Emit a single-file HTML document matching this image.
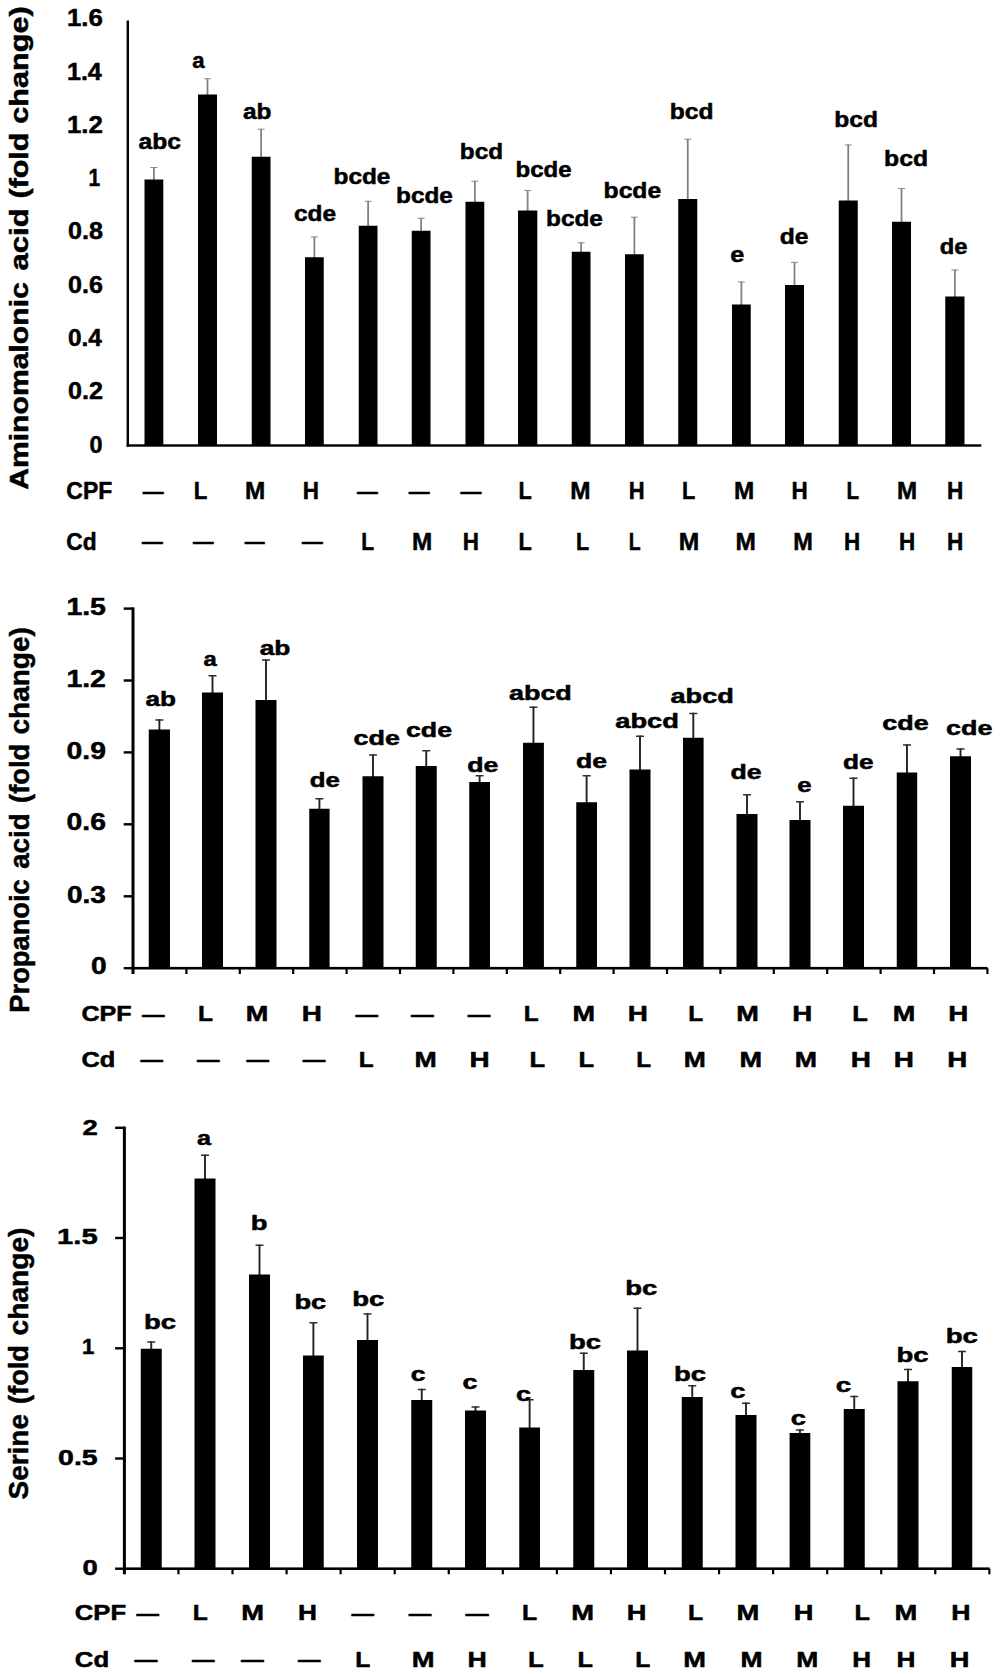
<!DOCTYPE html>
<html lang="en"><head><meta charset="utf-8"><title>Metabolite fold change charts</title>
<style>html,body{margin:0;padding:0;background:#fff}svg{display:block}text{font-family:"Liberation Sans", sans-serif;font-weight:bold;fill:#000;stroke:#000;stroke-width:0.5px;stroke-linejoin:round}</style></head><body>
<svg width="1000" height="1674" viewBox="0 0 1000 1674">
<rect width="1000" height="1674" fill="#fff"/>
<g id="chart1">
<path d="M153.9 180.5V167" stroke="#808080" stroke-width="1.8" fill="none"/><path d="M150.4 167.5H157.4" stroke="#8c8c8c" stroke-width="1" fill="none"/><path d="M207.5 95.5V78.25" stroke="#808080" stroke-width="1.8" fill="none"/><path d="M204 78.75H211" stroke="#8c8c8c" stroke-width="1" fill="none"/><path d="M261.12 157.75V128.75" stroke="#808080" stroke-width="1.8" fill="none"/><path d="M257.62 129.25H264.62" stroke="#8c8c8c" stroke-width="1" fill="none"/><path d="M314.38 258.25V236.5" stroke="#808080" stroke-width="1.8" fill="none"/><path d="M310.88 237H317.88" stroke="#8c8c8c" stroke-width="1" fill="none"/><path d="M368.12 226.75V200.8" stroke="#808080" stroke-width="1.8" fill="none"/><path d="M364.62 201.3H371.62" stroke="#8c8c8c" stroke-width="1" fill="none"/><path d="M421.12 231.75V217.75" stroke="#808080" stroke-width="1.8" fill="none"/><path d="M417.62 218.25H424.62" stroke="#8c8c8c" stroke-width="1" fill="none"/><path d="M474.88 202.75V180.75" stroke="#808080" stroke-width="1.8" fill="none"/><path d="M471.38 181.25H478.38" stroke="#8c8c8c" stroke-width="1" fill="none"/><path d="M527.65 211.5V190" stroke="#808080" stroke-width="1.8" fill="none"/><path d="M524.15 190.5H531.15" stroke="#8c8c8c" stroke-width="1" fill="none"/><path d="M581.12 252.75V242.3" stroke="#808080" stroke-width="1.8" fill="none"/><path d="M577.62 242.8H584.62" stroke="#8c8c8c" stroke-width="1" fill="none"/><path d="M634.38 255.25V216.75" stroke="#808080" stroke-width="1.8" fill="none"/><path d="M630.88 217.25H637.88" stroke="#8c8c8c" stroke-width="1" fill="none"/><path d="M687.75 200V138.75" stroke="#808080" stroke-width="1.8" fill="none"/><path d="M684.25 139.25H691.25" stroke="#8c8c8c" stroke-width="1" fill="none"/><path d="M741.38 305.5V281.5" stroke="#808080" stroke-width="1.8" fill="none"/><path d="M737.88 282H744.88" stroke="#8c8c8c" stroke-width="1" fill="none"/><path d="M794.5 286V261.9" stroke="#808080" stroke-width="1.8" fill="none"/><path d="M791 262.4H798" stroke="#8c8c8c" stroke-width="1" fill="none"/><path d="M848.25 201.5V144.5" stroke="#808080" stroke-width="1.8" fill="none"/><path d="M844.75 145H851.75" stroke="#8c8c8c" stroke-width="1" fill="none"/><path d="M901.5 222.75V188" stroke="#808080" stroke-width="1.8" fill="none"/><path d="M898 188.5H905" stroke="#8c8c8c" stroke-width="1" fill="none"/><path d="M954.88 297.5V269.5" stroke="#808080" stroke-width="1.8" fill="none"/><path d="M951.38 270H958.38" stroke="#8c8c8c" stroke-width="1" fill="none"/>
<g fill="#000"><rect x="144.5" y="179.5" width="18.8" height="266"/><rect x="198" y="94.5" width="19" height="351"/><rect x="251.75" y="156.75" width="18.75" height="288.75"/><rect x="305" y="257.25" width="18.75" height="188.25"/><rect x="358.75" y="225.75" width="18.75" height="219.75"/><rect x="411.75" y="230.75" width="18.75" height="214.75"/><rect x="465.5" y="201.75" width="18.75" height="243.75"/><rect x="518" y="210.5" width="19.3" height="235"/><rect x="571.75" y="251.75" width="18.75" height="193.75"/><rect x="625" y="254.25" width="18.75" height="191.25"/><rect x="678.25" y="199" width="19" height="246.5"/><rect x="732" y="304.5" width="18.75" height="141"/><rect x="785" y="285" width="19" height="160.5"/><rect x="838.75" y="200.5" width="19" height="245"/><rect x="892" y="221.75" width="19" height="223.75"/><rect x="945.25" y="296.5" width="19.25" height="149"/></g>
<rect x="126.6" y="20.5" width="2.4" height="426.2"/>
<rect x="126.6" y="444.3" width="854.7" height="2.4"/>
<text transform="translate(138.43 149.45) scale(1.1321 1)" font-size="21.8">abc</text>
<text transform="translate(192.15 67.7) scale(1.0148 1)" font-size="21.8">a</text>
<text transform="translate(242.93 118.7) scale(1.1201 1)" font-size="21.8">ab</text>
<text transform="translate(293.93 220.7) scale(1.1190 1)" font-size="21.8">cde</text>
<text transform="translate(333.56 184.45) scale(1.1184 1)" font-size="21.8">bcde</text>
<text transform="translate(396.06 203.2) scale(1.1184 1)" font-size="21.8">bcde</text>
<text transform="translate(459.81 159.45) scale(1.1154 1)" font-size="21.8">bcd</text>
<text transform="translate(515.57 176.95) scale(1.1035 1)" font-size="21.8">bcde</text>
<text transform="translate(546.06 225.9) scale(1.1184 1)" font-size="21.8">bcde</text>
<text transform="translate(603.55 197.7) scale(1.1333 1)" font-size="21.8">bcde</text>
<text transform="translate(669.8 118.95) scale(1.1290 1)" font-size="21.8">bcd</text>
<text transform="translate(730.19 261.95) scale(1.1560 1)" font-size="21.8">e</text>
<text transform="translate(779.68 243.5) scale(1.1312 1)" font-size="21.8">de</text>
<text transform="translate(834.3 126.95) scale(1.1290 1)" font-size="21.8">bcd</text>
<text transform="translate(884.05 166.2) scale(1.1357 1)" font-size="21.8">bcd</text>
<text transform="translate(939.67 253.95) scale(1.0924 1)" font-size="21.8">de</text>
<text transform="translate(66.9 26) scale(1.0652 1)" font-size="24.3">1.6</text>
<text transform="translate(66.92 79.8) scale(1.0337 1)" font-size="24.3">1.4</text>
<text transform="translate(66.9 132.7) scale(1.0652 1)" font-size="24.3">1.2</text>
<text transform="translate(88.55 186) scale(0.8640 1)" font-size="24.3">1</text>
<text transform="translate(67.96 239.4) scale(1.0337 1)" font-size="24.3">0.8</text>
<text transform="translate(67.96 292.7) scale(1.0337 1)" font-size="24.3">0.6</text>
<text transform="translate(67.95 346.1) scale(1.0039 1)" font-size="24.3">0.4</text>
<text transform="translate(67.96 399.4) scale(1.0337 1)" font-size="24.3">0.2</text>
<text transform="translate(89.44 452.8) scale(0.9630 1)" font-size="24.3">0</text>
<text transform="translate(66.34 498.9) scale(0.9778 1)" font-size="23.5">CPF</text>
<text transform="translate(66.34 549.9) scale(0.9681 1)" font-size="23.5">Cd</text>
<text transform="translate(142.7 498.37) scale(0.9952 1)" font-size="21" stroke="none">—</text>
<text transform="translate(193.69 498.9) scale(0.9481 1)" font-size="23.5">L</text>
<text transform="translate(245.02 498.9) scale(1.0343 1)" font-size="23.5">M</text>
<text transform="translate(302.68 498.9) scale(0.9548 1)" font-size="23.5">H</text>
<text transform="translate(357.1 498.37) scale(0.9905 1)" font-size="21" stroke="none">—</text>
<text transform="translate(408.7 498.37) scale(0.9952 1)" font-size="21" stroke="none">—</text>
<text transform="translate(460.4 498.37) scale(0.9952 1)" font-size="21" stroke="none">—</text>
<text transform="translate(518.41 498.9) scale(0.9259 1)" font-size="23.5">L</text>
<text transform="translate(570.32 498.9) scale(1.0343 1)" font-size="23.5">M</text>
<text transform="translate(628.7 498.9) scale(0.9355 1)" font-size="23.5">H</text>
<text transform="translate(681.91 498.9) scale(0.9259 1)" font-size="23.5">L</text>
<text transform="translate(734.02 498.9) scale(1.0343 1)" font-size="23.5">M</text>
<text transform="translate(791.38 498.9) scale(0.9548 1)" font-size="23.5">H</text>
<text transform="translate(846.44 498.9) scale(0.8741 1)" font-size="23.5">L</text>
<text transform="translate(896.93 498.9) scale(1.0286 1)" font-size="23.5">M</text>
<text transform="translate(947.08 498.9) scale(0.9613 1)" font-size="23.5">H</text>
<text transform="translate(142.1 547.97) scale(0.9905 1)" font-size="21" stroke="none">—</text>
<text transform="translate(193.1 547.97) scale(0.9762 1)" font-size="21" stroke="none">—</text>
<text transform="translate(244.7 547.97) scale(0.9476 1)" font-size="21" stroke="none">—</text>
<text transform="translate(302.1 547.97) scale(0.9905 1)" font-size="21" stroke="none">—</text>
<text transform="translate(361.13 549.9) scale(0.8963 1)" font-size="23.5">L</text>
<text transform="translate(412.02 549.9) scale(1.0343 1)" font-size="23.5">M</text>
<text transform="translate(462.68 549.9) scale(0.9548 1)" font-size="23.5">H</text>
<text transform="translate(518.41 549.9) scale(0.9259 1)" font-size="23.5">L</text>
<text transform="translate(576.11 549.9) scale(0.9185 1)" font-size="23.5">L</text>
<text transform="translate(628.78 549.9) scale(0.8296 1)" font-size="23.5">L</text>
<text transform="translate(678.82 549.9) scale(1.0457 1)" font-size="23.5">M</text>
<text transform="translate(735.62 549.9) scale(1.0400 1)" font-size="23.5">M</text>
<text transform="translate(793.35 549.9) scale(1.0000 1)" font-size="23.5">M</text>
<text transform="translate(843.98 549.9) scale(0.9548 1)" font-size="23.5">H</text>
<text transform="translate(898.98 549.9) scale(0.9548 1)" font-size="23.5">H</text>
<text transform="translate(947.08 549.9) scale(0.9613 1)" font-size="23.5">H</text>
<text transform="translate(27.6 489.81) rotate(-90) scale(1.1733 1)" font-size="25.7">Aminomalonic</text>
<text transform="translate(27.6 270.4) rotate(-90) scale(1.2070 1)" font-size="25.7">acid</text>
<text transform="translate(27.6 198.49) rotate(-90) scale(1.1846 1)" font-size="25.7">(fold</text>
<text transform="translate(27.6 123.69) rotate(-90) scale(1.1906 1)" font-size="25.7">change)</text>
</g>
<g id="chart2">
<path d="M159.38 730.5V719.25" stroke="#222" stroke-width="1.9" fill="none"/><path d="M155.38 720H163.38" stroke="#2e2e2e" stroke-width="1.5" fill="none"/><path d="M212.5 693.5V675" stroke="#222" stroke-width="1.9" fill="none"/><path d="M208.5 675.75H216.5" stroke="#2e2e2e" stroke-width="1.5" fill="none"/><path d="M266 701V659.25" stroke="#222" stroke-width="1.9" fill="none"/><path d="M262 660H270" stroke="#2e2e2e" stroke-width="1.5" fill="none"/><path d="M319.43 809.75V798" stroke="#222" stroke-width="1.9" fill="none"/><path d="M315.43 798.75H323.43" stroke="#2e2e2e" stroke-width="1.5" fill="none"/><path d="M373 777.25V754.25" stroke="#222" stroke-width="1.9" fill="none"/><path d="M369 755H377" stroke="#2e2e2e" stroke-width="1.5" fill="none"/><path d="M426.25 767V750" stroke="#222" stroke-width="1.9" fill="none"/><path d="M422.25 750.75H430.25" stroke="#2e2e2e" stroke-width="1.5" fill="none"/><path d="M479.62 783V775" stroke="#222" stroke-width="1.9" fill="none"/><path d="M475.62 775.75H483.62" stroke="#2e2e2e" stroke-width="1.5" fill="none"/><path d="M533.45 743.75V706.5" stroke="#222" stroke-width="1.9" fill="none"/><path d="M529.45 707.25H537.45" stroke="#2e2e2e" stroke-width="1.5" fill="none"/><path d="M586.62 803.25V775" stroke="#222" stroke-width="1.9" fill="none"/><path d="M582.62 775.75H590.62" stroke="#2e2e2e" stroke-width="1.5" fill="none"/><path d="M640 770.5V735.5" stroke="#222" stroke-width="1.9" fill="none"/><path d="M636 736.25H644" stroke="#2e2e2e" stroke-width="1.5" fill="none"/><path d="M693.3 738.75V712.75" stroke="#222" stroke-width="1.9" fill="none"/><path d="M689.3 713.5H697.3" stroke="#2e2e2e" stroke-width="1.5" fill="none"/><path d="M747 815V794" stroke="#222" stroke-width="1.9" fill="none"/><path d="M743 794.75H751" stroke="#2e2e2e" stroke-width="1.5" fill="none"/><path d="M800 821V801" stroke="#222" stroke-width="1.9" fill="none"/><path d="M796 801.75H804" stroke="#2e2e2e" stroke-width="1.5" fill="none"/><path d="M853.5 806.75V777.5" stroke="#222" stroke-width="1.9" fill="none"/><path d="M849.5 778.25H857.5" stroke="#2e2e2e" stroke-width="1.5" fill="none"/><path d="M906.98 773.5V744.25" stroke="#222" stroke-width="1.9" fill="none"/><path d="M902.98 745H910.98" stroke="#2e2e2e" stroke-width="1.5" fill="none"/><path d="M960.5 757.25V748.25" stroke="#222" stroke-width="1.9" fill="none"/><path d="M956.5 749H964.5" stroke="#2e2e2e" stroke-width="1.5" fill="none"/>
<g fill="#000"><rect x="148.75" y="729.5" width="21.25" height="238.7"/><rect x="202" y="692.5" width="21" height="275.7"/><rect x="255.5" y="700" width="21" height="268.2"/><rect x="309.25" y="808.75" width="20.35" height="159.45"/><rect x="362.5" y="776.25" width="21" height="191.95"/><rect x="415.75" y="766" width="21" height="202.2"/><rect x="469.25" y="782" width="20.75" height="186.2"/><rect x="523" y="742.75" width="20.9" height="225.45"/><rect x="576.25" y="802.25" width="20.75" height="165.95"/><rect x="629.5" y="769.5" width="21" height="198.7"/><rect x="683" y="737.75" width="20.6" height="230.45"/><rect x="736.5" y="814" width="21" height="154.2"/><rect x="789.5" y="820" width="21" height="148.2"/><rect x="843" y="805.75" width="21" height="162.45"/><rect x="896.75" y="772.5" width="20.45" height="195.7"/><rect x="950" y="756.25" width="21" height="211.95"/></g>
<rect x="131.5" y="607.4" width="3" height="366.6"/>
<rect x="131.5" y="966.9" width="856" height="2.6"/>
<rect x="123.7" y="607.4" width="9.3" height="2.4"/>
<rect x="123.7" y="679.3" width="9.3" height="2.4"/>
<rect x="123.7" y="751.2" width="9.3" height="2.4"/>
<rect x="123.7" y="823.1" width="9.3" height="2.4"/>
<rect x="123.7" y="895.1" width="9.3" height="2.4"/>
<rect x="123.7" y="967" width="9.3" height="2.4"/>
<rect x="185.3" y="968.2" width="2.2" height="5.8"/>
<rect x="238.7" y="968.2" width="2.2" height="5.8"/>
<rect x="292.1" y="968.2" width="2.2" height="5.8"/>
<rect x="345.5" y="968.2" width="2.2" height="5.8"/>
<rect x="398.9" y="968.2" width="2.2" height="5.8"/>
<rect x="452.3" y="968.2" width="2.2" height="5.8"/>
<rect x="505.7" y="968.2" width="2.2" height="5.8"/>
<rect x="559.1" y="968.2" width="2.2" height="5.8"/>
<rect x="612.5" y="968.2" width="2.2" height="5.8"/>
<rect x="665.9" y="968.2" width="2.2" height="5.8"/>
<rect x="719.3" y="968.2" width="2.2" height="5.8"/>
<rect x="772.7" y="968.2" width="2.2" height="5.8"/>
<rect x="826.1" y="968.2" width="2.2" height="5.8"/>
<rect x="879.5" y="968.2" width="2.2" height="5.8"/>
<rect x="932.9" y="968.2" width="2.2" height="5.8"/>
<rect x="986.3" y="968.2" width="2.2" height="5.8"/>
<text transform="translate(145.48 705.8) scale(1.3135 1)" font-size="19.9">ab</text>
<text transform="translate(203.45 666.05) scale(1.1960 1)" font-size="19.9">a</text>
<text transform="translate(259.73 654.55) scale(1.3242 1)" font-size="19.9">ab</text>
<text transform="translate(309.72 786.55) scale(1.2981 1)" font-size="19.9">de</text>
<text transform="translate(353.49 744.55) scale(1.3525 1)" font-size="19.9">cde</text>
<text transform="translate(405.99 736.55) scale(1.3453 1)" font-size="19.9">cde</text>
<text transform="translate(467.24 771.55) scale(1.3404 1)" font-size="19.9">de</text>
<text transform="translate(508.99 699.55) scale(1.3534 1)" font-size="19.9">abcd</text>
<text transform="translate(575.99 767.5) scale(1.3404 1)" font-size="19.9">de</text>
<text transform="translate(615.24 728.3) scale(1.3698 1)" font-size="19.9">abcd</text>
<text transform="translate(670.49 702.8) scale(1.3643 1)" font-size="19.9">abcd</text>
<text transform="translate(730.49 779.05) scale(1.3404 1)" font-size="19.9">de</text>
<text transform="translate(797.23 792.3) scale(1.3000 1)" font-size="19.9">e</text>
<text transform="translate(842.98 769.05) scale(1.3192 1)" font-size="19.9">de</text>
<text transform="translate(882.24 730.3) scale(1.3525 1)" font-size="19.9">cde</text>
<text transform="translate(945.99 734.8) scale(1.3525 1)" font-size="19.9">cde</text>
<text transform="translate(66.38 615.2) scale(1.2215 1)" font-size="23.3">1.5</text>
<text transform="translate(66.38 687.2) scale(1.2215 1)" font-size="23.3">1.2</text>
<text transform="translate(66.6 758.7) scale(1.2147 1)" font-size="23.3">0.9</text>
<text transform="translate(66.6 830.4) scale(1.2147 1)" font-size="23.3">0.6</text>
<text transform="translate(67 902.6) scale(1.2026 1)" font-size="23.3">0.3</text>
<text transform="translate(91 974.3) scale(1.2080 1)" font-size="23.3">0</text>
<text transform="translate(81.49 1020.8) scale(1.1791 1)" font-size="21.3">CPF</text>
<text transform="translate(81.5 1066.8) scale(1.1944 1)" font-size="21.3">Cd</text>
<text transform="translate(142.1 1020.67) scale(1.0714 1)" font-size="21" stroke="none">—</text>
<text transform="translate(197.94 1020.8) scale(1.1520 1)" font-size="21.3">L</text>
<text transform="translate(245.85 1020.8) scale(1.2727 1)" font-size="21.3">M</text>
<text transform="translate(301.82 1020.8) scale(1.3111 1)" font-size="21.3">H</text>
<text transform="translate(355.4 1020.67) scale(1.0714 1)" font-size="21" stroke="none">—</text>
<text transform="translate(411.1 1020.67) scale(1.0857 1)" font-size="21" stroke="none">—</text>
<text transform="translate(467.7 1020.67) scale(1.0762 1)" font-size="21" stroke="none">—</text>
<text transform="translate(523.64 1020.8) scale(1.1440 1)" font-size="21.3">L</text>
<text transform="translate(572.55 1020.8) scale(1.2727 1)" font-size="21.3">M</text>
<text transform="translate(627.82 1020.8) scale(1.3111 1)" font-size="21.3">H</text>
<text transform="translate(688.14 1020.8) scale(1.1440 1)" font-size="21.3">L</text>
<text transform="translate(736.25 1020.8) scale(1.2727 1)" font-size="21.3">M</text>
<text transform="translate(792.22 1020.8) scale(1.3037 1)" font-size="21.3">H</text>
<text transform="translate(852.3 1020.8) scale(1.2000 1)" font-size="21.3">L</text>
<text transform="translate(892.85 1020.8) scale(1.2727 1)" font-size="21.3">M</text>
<text transform="translate(948.22 1020.8) scale(1.3037 1)" font-size="21.3">H</text>
<text transform="translate(140.4 1066.37) scale(1.0714 1)" font-size="21" stroke="none">—</text>
<text transform="translate(197.1 1066.37) scale(1.0714 1)" font-size="21" stroke="none">—</text>
<text transform="translate(246.4 1066.37) scale(1.0714 1)" font-size="21" stroke="none">—</text>
<text transform="translate(302.7 1066.37) scale(1.0762 1)" font-size="21" stroke="none">—</text>
<text transform="translate(358.64 1066.8) scale(1.1440 1)" font-size="21.3">L</text>
<text transform="translate(414.56 1066.8) scale(1.2545 1)" font-size="21.3">M</text>
<text transform="translate(469.52 1066.8) scale(1.3111 1)" font-size="21.3">H</text>
<text transform="translate(529.6 1066.8) scale(1.2000 1)" font-size="21.3">L</text>
<text transform="translate(578.6 1066.8) scale(1.2000 1)" font-size="21.3">L</text>
<text transform="translate(636.34 1066.8) scale(1.1440 1)" font-size="21.3">L</text>
<text transform="translate(683.77 1066.8) scale(1.2424 1)" font-size="21.3">M</text>
<text transform="translate(739.55 1066.8) scale(1.2727 1)" font-size="21.3">M</text>
<text transform="translate(794.86 1066.8) scale(1.2545 1)" font-size="21.3">M</text>
<text transform="translate(850.82 1066.8) scale(1.3111 1)" font-size="21.3">H</text>
<text transform="translate(893.82 1066.8) scale(1.3111 1)" font-size="21.3">H</text>
<text transform="translate(947.22 1066.8) scale(1.3037 1)" font-size="21.3">H</text>
<text transform="translate(28.9 1012.63) rotate(-90) scale(0.9774 1)" font-size="27.9">Propanoic</text>
<text transform="translate(28.9 868.85) rotate(-90) scale(0.9969 1)" font-size="27.9">acid</text>
<text transform="translate(28.9 802.93) rotate(-90) scale(0.9777 1)" font-size="27.9">(fold</text>
<text transform="translate(28.9 734.45) rotate(-90) scale(1.0034 1)" font-size="27.9">change)</text>
</g>
<g id="chart3">
<path d="M151.25 1349.75V1341.25" stroke="#222" stroke-width="1.9" fill="none"/><path d="M147.25 1342H155.25" stroke="#2e2e2e" stroke-width="1.5" fill="none"/><path d="M205 1179.5V1154.5" stroke="#222" stroke-width="1.9" fill="none"/><path d="M201 1155.25H209" stroke="#2e2e2e" stroke-width="1.5" fill="none"/><path d="M259.5 1275.5V1244.5" stroke="#222" stroke-width="1.9" fill="none"/><path d="M255.5 1245.25H263.5" stroke="#2e2e2e" stroke-width="1.5" fill="none"/><path d="M313.38 1356.5V1322" stroke="#222" stroke-width="1.9" fill="none"/><path d="M309.38 1322.75H317.38" stroke="#2e2e2e" stroke-width="1.5" fill="none"/><path d="M367.5 1341V1313.2" stroke="#222" stroke-width="1.9" fill="none"/><path d="M363.5 1313.95H371.5" stroke="#2e2e2e" stroke-width="1.5" fill="none"/><path d="M421.75 1401V1388.75" stroke="#222" stroke-width="1.9" fill="none"/><path d="M417.75 1389.5H425.75" stroke="#2e2e2e" stroke-width="1.5" fill="none"/><path d="M475.5 1411.5V1406.25" stroke="#222" stroke-width="1.9" fill="none"/><path d="M471.5 1407H479.5" stroke="#2e2e2e" stroke-width="1.5" fill="none"/><path d="M529.62 1428.5V1399" stroke="#222" stroke-width="1.9" fill="none"/><path d="M525.62 1399.75H533.62" stroke="#2e2e2e" stroke-width="1.5" fill="none"/><path d="M583.75 1371V1352.5" stroke="#222" stroke-width="1.9" fill="none"/><path d="M579.75 1353.25H587.75" stroke="#2e2e2e" stroke-width="1.5" fill="none"/><path d="M637.5 1351.5V1307.5" stroke="#222" stroke-width="1.9" fill="none"/><path d="M633.5 1308.25H641.5" stroke="#2e2e2e" stroke-width="1.5" fill="none"/><path d="M692.25 1398V1385" stroke="#222" stroke-width="1.9" fill="none"/><path d="M688.25 1385.75H696.25" stroke="#2e2e2e" stroke-width="1.5" fill="none"/><path d="M746 1416V1402.5" stroke="#222" stroke-width="1.9" fill="none"/><path d="M742 1403.25H750" stroke="#2e2e2e" stroke-width="1.5" fill="none"/><path d="M799.95 1434V1429.25" stroke="#222" stroke-width="1.9" fill="none"/><path d="M795.95 1430H803.95" stroke="#2e2e2e" stroke-width="1.5" fill="none"/><path d="M854.25 1410V1395.75" stroke="#222" stroke-width="1.9" fill="none"/><path d="M850.25 1396.5H858.25" stroke="#2e2e2e" stroke-width="1.5" fill="none"/><path d="M908 1382.25V1368.75" stroke="#222" stroke-width="1.9" fill="none"/><path d="M904 1369.5H912" stroke="#2e2e2e" stroke-width="1.5" fill="none"/><path d="M962 1368V1350.75" stroke="#222" stroke-width="1.9" fill="none"/><path d="M958 1351.5H966" stroke="#2e2e2e" stroke-width="1.5" fill="none"/>
<g fill="#000"><rect x="140.75" y="1348.75" width="21" height="219.95"/><rect x="194.5" y="1178.5" width="21" height="390.2"/><rect x="249" y="1274.5" width="21" height="294.2"/><rect x="303" y="1355.5" width="20.75" height="213.2"/><rect x="357" y="1340" width="21" height="228.7"/><rect x="411.25" y="1400" width="21" height="168.7"/><rect x="465" y="1410.5" width="21" height="158.2"/><rect x="519.25" y="1427.5" width="20.75" height="141.2"/><rect x="573.25" y="1370" width="21" height="198.7"/><rect x="627" y="1350.5" width="21" height="218.2"/><rect x="681.75" y="1397" width="21" height="171.7"/><rect x="735.5" y="1415" width="21" height="153.7"/><rect x="789.6" y="1433" width="20.7" height="135.7"/><rect x="843.75" y="1409" width="21" height="159.7"/><rect x="897.5" y="1381.25" width="21" height="187.45"/><rect x="951.75" y="1367" width="20.5" height="201.7"/></g>
<rect x="122.9" y="1126.6" width="3" height="447.7"/>
<rect x="122.9" y="1567.4" width="866.7" height="2.6"/>
<rect x="115.1" y="1126.6" width="9.3" height="2.4"/>
<rect x="115.1" y="1236.8" width="9.3" height="2.4"/>
<rect x="115.1" y="1347.1" width="9.3" height="2.4"/>
<rect x="115.1" y="1457.3" width="9.3" height="2.4"/>
<rect x="115.1" y="1567.5" width="9.3" height="2.4"/>
<rect x="177.36" y="1568.7" width="2.2" height="5.6"/>
<rect x="231.42" y="1568.7" width="2.2" height="5.6"/>
<rect x="285.48" y="1568.7" width="2.2" height="5.6"/>
<rect x="339.54" y="1568.7" width="2.2" height="5.6"/>
<rect x="393.6" y="1568.7" width="2.2" height="5.6"/>
<rect x="447.66" y="1568.7" width="2.2" height="5.6"/>
<rect x="501.72" y="1568.7" width="2.2" height="5.6"/>
<rect x="555.78" y="1568.7" width="2.2" height="5.6"/>
<rect x="609.84" y="1568.7" width="2.2" height="5.6"/>
<rect x="663.9" y="1568.7" width="2.2" height="5.6"/>
<rect x="717.96" y="1568.7" width="2.2" height="5.6"/>
<rect x="772.02" y="1568.7" width="2.2" height="5.6"/>
<rect x="826.08" y="1568.7" width="2.2" height="5.6"/>
<rect x="880.14" y="1568.7" width="2.2" height="5.6"/>
<rect x="934.2" y="1568.7" width="2.2" height="5.6"/>
<rect x="988.26" y="1568.7" width="2.2" height="5.6"/>
<text transform="translate(143.91 1329.25) scale(1.3841 1)" font-size="19.9">bc</text>
<text transform="translate(197.02 1145) scale(1.2680 1)" font-size="19.9">a</text>
<text transform="translate(250.67 1230) scale(1.3783 1)" font-size="19.9">b</text>
<text transform="translate(294.42 1308.75) scale(1.3731 1)" font-size="19.9">bc</text>
<text transform="translate(352.16 1306.2) scale(1.3841 1)" font-size="19.9">bc</text>
<text transform="translate(410.78 1381.25) scale(1.3348 1)" font-size="19.9">c</text>
<text transform="translate(462.54 1389.25) scale(1.3565 1)" font-size="19.9">c</text>
<text transform="translate(516.04 1400.5) scale(1.3565 1)" font-size="19.9">c</text>
<text transform="translate(568.91 1348.75) scale(1.3841 1)" font-size="19.9">bc</text>
<text transform="translate(625.16 1295) scale(1.3841 1)" font-size="19.9">bc</text>
<text transform="translate(673.91 1381.25) scale(1.3841 1)" font-size="19.9">bc</text>
<text transform="translate(730.29 1397.5) scale(1.3783 1)" font-size="19.9">c</text>
<text transform="translate(790.79 1424.5) scale(1.3783 1)" font-size="19.9">c</text>
<text transform="translate(835.8 1391.75) scale(1.4000 1)" font-size="19.9">c</text>
<text transform="translate(896.41 1361.75) scale(1.3841 1)" font-size="19.9">bc</text>
<text transform="translate(945.65 1343.25) scale(1.3951 1)" font-size="19.9">bc</text>
<text transform="translate(82.41 1134.7) scale(1.2480 1)" font-size="22">2</text>
<text transform="translate(57.1 1243.7) scale(1.3267 1)" font-size="22">1.5</text>
<text transform="translate(82.04 1353.6) scale(1.0087 1)" font-size="22">1</text>
<text transform="translate(58.02 1464.5) scale(1.2967 1)" font-size="22">0.5</text>
<text transform="translate(82.41 1574.5) scale(1.2480 1)" font-size="22">0</text>
<text transform="translate(74.8 1620.1) scale(1.1922 1)" font-size="21.5">CPF</text>
<text transform="translate(74.8 1666.5) scale(1.2024 1)" font-size="21.5">Cd</text>
<text transform="translate(136.4 1619.67) scale(1.0714 1)" font-size="21" stroke="none">—</text>
<text transform="translate(192.64 1620.1) scale(1.1440 1)" font-size="21.5">L</text>
<text transform="translate(241.25 1620.1) scale(1.2727 1)" font-size="21.5">M</text>
<text transform="translate(297.88 1620.1) scale(1.2207 1)" font-size="21.5">H</text>
<text transform="translate(351.4 1619.67) scale(1.0714 1)" font-size="21" stroke="none">—</text>
<text transform="translate(408.7 1619.67) scale(1.0762 1)" font-size="21" stroke="none">—</text>
<text transform="translate(465.4 1619.67) scale(1.1048 1)" font-size="21" stroke="none">—</text>
<text transform="translate(521.94 1620.1) scale(1.1520 1)" font-size="21.5">L</text>
<text transform="translate(571.25 1620.1) scale(1.2727 1)" font-size="21.5">M</text>
<text transform="translate(626.85 1620.1) scale(1.2690 1)" font-size="21.5">H</text>
<text transform="translate(687.94 1620.1) scale(1.1520 1)" font-size="21.5">L</text>
<text transform="translate(736.55 1620.1) scale(1.2727 1)" font-size="21.5">M</text>
<text transform="translate(793.85 1620.1) scale(1.2690 1)" font-size="21.5">H</text>
<text transform="translate(854.62 1620.1) scale(1.1760 1)" font-size="21.5">L</text>
<text transform="translate(894.55 1620.1) scale(1.2727 1)" font-size="21.5">M</text>
<text transform="translate(951.27 1620.1) scale(1.2414 1)" font-size="21.5">H</text>
<text transform="translate(134.4 1665.67) scale(1.0905 1)" font-size="21" stroke="none">—</text>
<text transform="translate(192.1 1665.67) scale(1.0714 1)" font-size="21" stroke="none">—</text>
<text transform="translate(241.1 1665.67) scale(1.0857 1)" font-size="21" stroke="none">—</text>
<text transform="translate(298.1 1665.67) scale(1.0714 1)" font-size="21" stroke="none">—</text>
<text transform="translate(355.34 1666.5) scale(1.1440 1)" font-size="21.5">L</text>
<text transform="translate(411.85 1666.5) scale(1.2727 1)" font-size="21.5">M</text>
<text transform="translate(467.57 1666.5) scale(1.2414 1)" font-size="21.5">H</text>
<text transform="translate(527.9 1666.5) scale(1.2000 1)" font-size="21.5">L</text>
<text transform="translate(577.62 1666.5) scale(1.1760 1)" font-size="21.5">L</text>
<text transform="translate(635.34 1666.5) scale(1.1440 1)" font-size="21.5">L</text>
<text transform="translate(683.35 1666.5) scale(1.2667 1)" font-size="21.5">M</text>
<text transform="translate(740.58 1666.5) scale(1.2303 1)" font-size="21.5">M</text>
<text transform="translate(796.28 1666.5) scale(1.2303 1)" font-size="21.5">M</text>
<text transform="translate(852.29 1666.5) scale(1.2138 1)" font-size="21.5">H</text>
<text transform="translate(896.58 1666.5) scale(1.2207 1)" font-size="21.5">H</text>
<text transform="translate(949.85 1666.5) scale(1.2690 1)" font-size="21.5">H</text>
<text transform="translate(27.9 1499.45) rotate(-90) scale(1.0017 1)" font-size="27.9">Serine</text>
<text transform="translate(27.9 1404.03) rotate(-90) scale(0.9777 1)" font-size="27.9">(fold</text>
<text transform="translate(27.9 1335.46) rotate(-90) scale(1.0091 1)" font-size="27.9">change)</text>
</g>
</svg></body></html>
